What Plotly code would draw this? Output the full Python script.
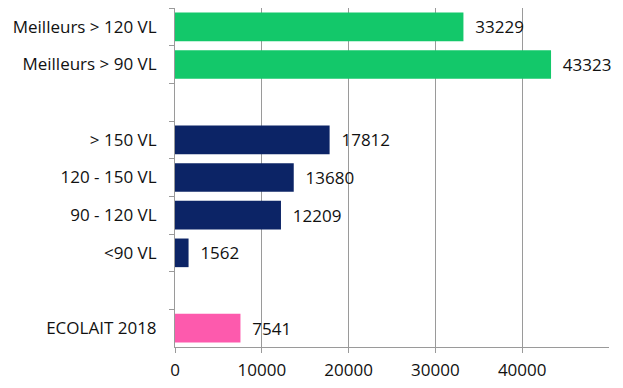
import plotly.graph_objects as go

categories = ["Meilleurs > 120 VL", "Meilleurs > 90 VL", " ", "> 150 VL", "120 - 150 VL",
              "90 - 120 VL", "<90 VL", "  ", "ECOLAIT 2018"]
values = [33229, 43323, None, 17812, 13680, 12209, 1562, None, 7541]
groups = ["best", "best", None, "class", "class", "class", "class", None, "eco"]
group_colors = {"best": "#13C86A", "class": "#0C2466", "eco": "#FD5AAD", None: "#FFFFFF"}
x_ticks = [0, 10000, 20000, 30000, 40000]

colors = [group_colors[g] for g in groups]
texts = ["" if v is None else f"{v}" for v in values]

FONT = "Open Sans"
SIZE = 17

fig = go.Figure(go.Bar(
    y=categories, x=values, orientation="h",
    marker=dict(color=colors, line=dict(width=0)),
    text=texts, textposition="outside", texttemplate="  %{text}",
    textfont=dict(family=FONT, size=SIZE, color="#111111"),
    cliponaxis=False,
))

# the page adds an 8px body margin, so the figure is sized to fit the window
fig.update_layout(
    width=615, height=380,
    margin=dict(l=167, r=14, t=0, b=41, autoexpand=False),
    plot_bgcolor="white", paper_bgcolor="white",
    bargap=0.24,
    showlegend=False,
    font=dict(family=FONT, size=SIZE, color="#111111"),
)
fig.update_xaxes(
    range=[0, 50000], tickvals=x_ticks, ticktext=[str(t) for t in x_ticks],
    showgrid=True, gridcolor="#9A9A9A", gridwidth=1,
    showline=True, linecolor="#9A9A9A", linewidth=1,
    ticks="outside", ticklen=5, tickcolor="#9A9A9A",
    zeroline=False, ticklabelstandoff=3, automargin=False,
    tickfont=dict(family=FONT, size=SIZE, color="#111111"),
)
fig.update_yaxes(
    type="category", categoryorder="array", categoryarray=categories,
    autorange="reversed",
    showline=True, linecolor="#9A9A9A", linewidth=1,
    ticks="outside", ticklen=5, tickcolor="#9A9A9A", tickson="boundaries",
    showgrid=False, ticklabelstandoff=14, automargin=False,
    tickfont=dict(family=FONT, size=SIZE, color="#111111"),
)

fig.write_html("out.html")
